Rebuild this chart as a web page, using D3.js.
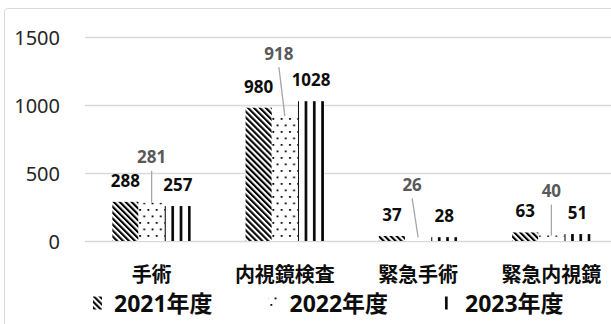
<!DOCTYPE html>
<html>
<head>
<meta charset="utf-8">
<script src="https://cdn.jsdelivr.net/npm/d3@7"></script>
<style>
  html, body { margin: 0; padding: 0; background: #fff; }
  svg { display: block; font-family: "Noto Sans", "Noto Sans CJK JP", sans-serif; }
</style>
</head>
<body>
<div id="chart"></div>
<script>
// data
const categories = ['手術', '内視鏡検査', '緊急手術', '緊急内視鏡'];
const seriesNames = ['2021年度', '2022年度', '2023年度'];
const values2021 = [288, 980, 37, 63];
const values2022 = [281, 918, 26, 40];
const values2023 = [257, 1028, 28, 51];
const yTicks = [0, 500, 1000, 1500];

const seriesValues = [values2021, values2022, values2023];

// the 2022 labels were dragged off the bars in the original, with leader lines
const label2022Offset = [[0, -46], [-6, -63], [-6, -53], [0, -45]];

const width = 611, height = 324;

const svg = d3.select('#chart')
    .append('svg')
    .attr('width', width)
    .attr('height', height);

// fill patterns for the three years
const defs = svg.append('defs');

const p2021 = defs.append('pattern')
    .attr('id', 'p2021')
    .attr('patternUnits', 'userSpaceOnUse')
    .attr('width', 4.2)
    .attr('height', 4.2)
    .attr('patternTransform', 'rotate(-45)');
p2021.append('rect').attr('width', 4.2).attr('height', 4.2).attr('fill', '#fff');
p2021.append('rect').attr('width', 2.1).attr('height', 4.2).attr('fill', '#000');

const p2022 = defs.append('pattern')
    .attr('id', 'p2022')
    .attr('patternUnits', 'userSpaceOnUse')
    .attr('width', 8.3)
    .attr('height', 13);
p2022.append('rect').attr('width', 8.3).attr('height', 13).attr('fill', '#fff');
p2022.append('rect').attr('x', 2).attr('y', 1).attr('width', 1.8).attr('height', 1.8).attr('fill', '#000');
p2022.append('rect').attr('x', 6.1).attr('y', 7.5).attr('width', 1.8).attr('height', 1.8).attr('fill', '#000');

const p2023 = defs.append('pattern')
    .attr('id', 'p2023')
    .attr('patternUnits', 'userSpaceOnUse')
    .attr('width', 8.3)
    .attr('height', 10);
p2023.append('rect').attr('width', 8.3).attr('height', 10).attr('fill', '#fff');
p2023.append('rect').attr('x', 1).attr('width', 2.6).attr('height', 10).attr('fill', '#000');

const fills = ['url(#p2021)', 'url(#p2022)', 'url(#p2023)'];

// chart area border
svg.append('rect')
    .attr('x', 4.5)
    .attr('y', 8.5)
    .attr('width', 700)
    .attr('height', 400)
    .attr('rx', 3)
    .attr('fill', 'none')
    .attr('stroke', '#d9d9d9');

const x0 = d3.scaleBand()
    .domain(categories)
    .range([85, 618])
    .paddingInner(0.41)
    .paddingOuter(0.205);

const x1 = d3.scaleBand()
    .domain(seriesNames)
    .range([0, x0.bandwidth()])
    .padding(0);

const y = d3.scaleLinear()
    .domain([0, 1500])
    .range([241, 37]);

// gridlines
svg.append('g')
    .selectAll('line')
    .data(yTicks)
    .join('line')
    .attr('x1', 85)
    .attr('x2', width)
    .attr('y1', d => Math.round(y(d)) + 0.5)
    .attr('y2', d => Math.round(y(d)) + 0.5)
    .attr('stroke', '#d9d9d9')
    .attr('stroke-width', 1.3);

// y axis labels
const yAxis = svg.append('g')
    .attr('transform', 'translate(60,0)')
    .call(d3.axisLeft(y).tickValues(yTicks).tickFormat(d3.format('d')).tickSize(0).tickPadding(0));
yAxis.select('.domain').remove();
yAxis.selectAll('text')
    .attr('font-size', 20)
    .attr('font-family', '"Noto Sans", sans-serif')
    .attr('fill', '#262626')
    .attr('dy', '0.36em');

// bars
const groups = svg.append('g')
    .selectAll('g')
    .data(categories)
    .join('g')
    .attr('transform', d => `translate(${x0(d)},0)`);

groups.selectAll('rect')
    .data((d, i) => seriesNames.map((s, j) => ({ series: s, j, value: seriesValues[j][i] })))
    .join('rect')
    .attr('x', d => x1(d.series))
    .attr('y', d => y(d.value))
    .attr('width', x1.bandwidth())
    .attr('height', d => y(0) - y(d.value))
    .attr('fill', d => fills[d.j]);

// data labels
const labels = svg.append('g')
    .attr('font-weight', 'bold')
    .attr('font-size', 17)
    .attr('text-anchor', 'middle')
    .attr('dominant-baseline', 'central');

categories.forEach((c, i) => {
    seriesNames.forEach((s, j) => {
        const v = seriesValues[j][i];
        const bx = x0(c) + x1(s) + x1.bandwidth() / 2;
        const top = y(v);
        if (j === 1) {
            const lx = bx + label2022Offset[i][0];
            const ly = top + label2022Offset[i][1];
            svg.append('line')
                .attr('x1', lx)
                .attr('y1', ly + 14)
                .attr('x2', bx)
                .attr('y2', top)
                .attr('stroke', '#a6a6a6')
                .attr('stroke-width', 1.3);
            labels.append('text')
                .attr('x', lx)
                .attr('y', ly)
                .attr('fill', '#595959')
                .text(v);
        } else {
            labels.append('text')
                .attr('x', bx)
                .attr('y', top - 21.5)
                .attr('fill', '#0d0d0d')
                .text(v);
        }
    });
});

// category labels
svg.append('g')
    .selectAll('text')
    .data(categories)
    .join('text')
    .attr('x', d => x0(d) + x0.bandwidth() / 2)
    .attr('y', 273)
    .attr('text-anchor', 'middle')
    .attr('dominant-baseline', 'central')
    .attr('font-size', 20)
    .attr('font-weight', 'bold')
    .attr('font-family', '"Noto Sans CJK JP", sans-serif')
    .attr('fill', '#0d0d0d')
    .text(d => d);

// legend
const legend = svg.append('g')
    .selectAll('g')
    .data(seriesNames)
    .join('g')
    .attr('transform', (d, i) => `translate(${93 + i * 175.5},303)`);

legend.append('rect')
    .attr('x', 0)
    .attr('y', -6.5)
    .attr('width', 9)
    .attr('height', 13)
    .attr('fill', (d, i) => fills[i]);

legend.append('text')
    .attr('x', 21)
    .attr('y', 0)
    .attr('dominant-baseline', 'central')
    .attr('font-size', 23)
    .attr('font-weight', 'bold')
    .attr('fill', '#0d0d0d')
    .text(d => d);
</script>
</body>
</html>
